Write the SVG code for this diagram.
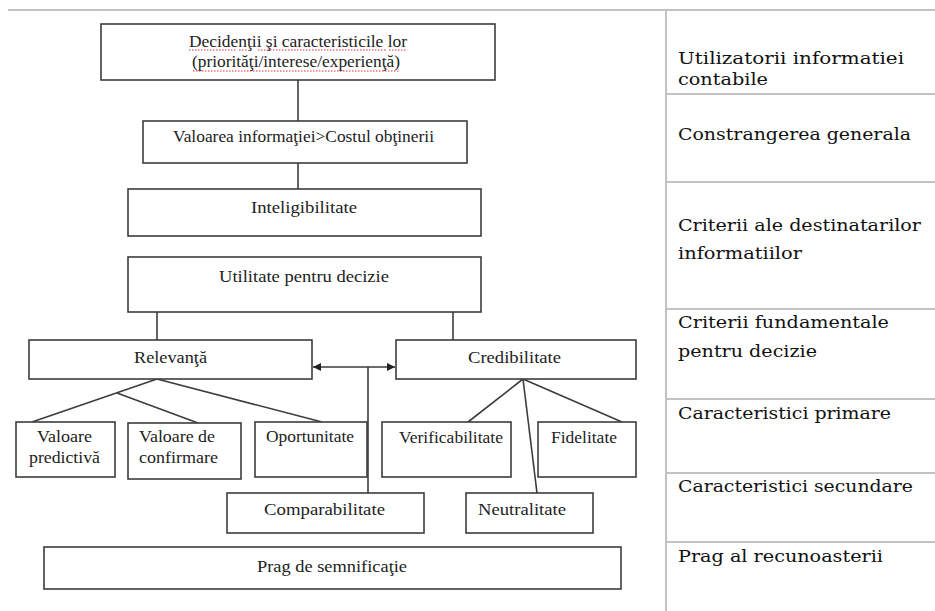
<svg xmlns="http://www.w3.org/2000/svg" width="935" height="611" viewBox="0 0 935 611">
<style>
.box{fill:#ffffff;stroke:#3c3c3c;stroke-width:1.6}
.lbl{font-family:"Liberation Serif","Times New Roman",serif;font-size:17px;fill:#222}
.c{text-anchor:middle}
.side{font-family:"DejaVu Serif","Liberation Serif",serif;font-size:17px;fill:#111}
.grid{stroke:#c2c2c2;stroke-width:2;fill:none}
.con{stroke:#3c3c3c;stroke-width:1.6;fill:none}
.spell{stroke:#e03030;stroke-width:1;stroke-dasharray:1.5 1.5;fill:none}
</style>
<defs>
<marker id="ah" markerUnits="userSpaceOnUse" markerWidth="8" markerHeight="8" refX="8" refY="4" orient="auto-start-reverse">
<path d="M0,0 L8,4 L0,8 z" fill="#222"/>
</marker>
</defs>
<rect width="935" height="611" fill="#ffffff"/>
<g id="table-grid">
<line class="grid" x1="8" y1="10" x2="935" y2="10"/>
<line class="grid" x1="666" y1="10" x2="666" y2="611"/>
<line class="grid" x1="666" y1="94" x2="935" y2="94"/>
<line class="grid" x1="666" y1="182" x2="935" y2="182"/>
<line class="grid" x1="666" y1="309" x2="935" y2="309"/>
<line class="grid" x1="666" y1="399" x2="935" y2="399"/>
<line class="grid" x1="666" y1="473" x2="935" y2="473"/>
<line class="grid" x1="666" y1="542" x2="935" y2="542"/>
</g>
<g id="side-labels">
<text class="side" x="678" y="64" textLength="226" lengthAdjust="spacingAndGlyphs">Utilizatorii informatiei</text>
<text class="side" x="678" y="85" textLength="90" lengthAdjust="spacingAndGlyphs">contabile</text>
<text class="side" x="678" y="140" textLength="233" lengthAdjust="spacingAndGlyphs">Constrangerea generala</text>
<text class="side" x="678" y="231" textLength="243" lengthAdjust="spacingAndGlyphs">Criterii ale destinatarilor</text>
<text class="side" x="678" y="259" textLength="124" lengthAdjust="spacingAndGlyphs">informatiilor</text>
<text class="side" x="678" y="328" textLength="211" lengthAdjust="spacingAndGlyphs">Criterii fundamentale</text>
<text class="side" x="678" y="357" textLength="139" lengthAdjust="spacingAndGlyphs">pentru decizie</text>
<text class="side" x="678" y="419" textLength="213" lengthAdjust="spacingAndGlyphs">Caracteristici primare</text>
<text class="side" x="678" y="492" textLength="235" lengthAdjust="spacingAndGlyphs">Caracteristici secundare</text>
<text class="side" x="678" y="562" textLength="205" lengthAdjust="spacingAndGlyphs">Prag al recunoasterii</text>
</g>
<g id="connectors">
<line class="con" x1="298" y1="80" x2="298" y2="121"/>
<line class="con" x1="298" y1="163" x2="298" y2="189"/>
<line class="con" x1="157" y1="312" x2="157" y2="340"/>
<line class="con" x1="453" y1="312" x2="453" y2="340"/>
<line class="con" x1="157" y1="379" x2="32" y2="422"/>
<line class="con" x1="117" y1="393" x2="198" y2="423"/>
<line class="con" x1="157" y1="379" x2="322" y2="422"/>
<line class="con" x1="523" y1="379" x2="468" y2="422"/>
<line class="con" x1="523" y1="379" x2="622" y2="422"/>
<line class="con" x1="523" y1="379" x2="537" y2="493"/>
<line class="con" x1="313" y1="367" x2="395" y2="367" marker-start="url(#ah)" marker-end="url(#ah)"/>
<line class="con" x1="368" y1="367" x2="368" y2="493"/>
</g>
<g id="n-decidenti">
<rect class="box" x="101" y="24" width="394" height="56"/>
<text class="lbl c" x="298" y="47" textLength="218" lengthAdjust="spacingAndGlyphs">Decidenţii şi caracteristicile lor</text>
<text class="lbl c" x="296" y="67" textLength="208" lengthAdjust="spacingAndGlyphs">(priorităţi/interese/experienţă)</text>
<path class="spell" d="M189,50 H237 M239,50 H248 M258,50 H387 M389,50 H407 M193,71 H400"/>
</g>
<g id="n-valoarea">
<rect class="box" x="143" y="121" width="324" height="42"/>
<text class="lbl c" x="303.5" y="142" textLength="261" lengthAdjust="spacingAndGlyphs">Valoarea informaţiei&gt;Costul obţinerii</text>
</g>
<g id="n-inteligibilitate">
<rect class="box" x="128" y="189" width="353" height="47"/>
<text class="lbl c" x="304" y="213" textLength="106" lengthAdjust="spacingAndGlyphs">Inteligibilitate</text>
</g>
<g id="n-utilitate">
<rect class="box" x="128" y="257" width="353" height="55"/>
<text class="lbl c" x="304" y="282" textLength="170" lengthAdjust="spacingAndGlyphs">Utilitate pentru decizie</text>
</g>
<g id="n-relevanta">
<rect class="box" x="29" y="340" width="283" height="39"/>
<text class="lbl c" x="170.5" y="363" textLength="73" lengthAdjust="spacingAndGlyphs">Relevanţă</text>
</g>
<g id="n-credibilitate">
<rect class="box" x="396" y="340" width="240" height="39"/>
<text class="lbl c" x="514.5" y="363" textLength="93" lengthAdjust="spacingAndGlyphs">Credibilitate</text>
</g>
<g id="n-valoare-predictiva">
<rect class="box" x="16" y="422" width="99" height="55"/>
<text class="lbl c" x="64.5" y="442" textLength="55" lengthAdjust="spacingAndGlyphs">Valoare</text>
<text class="lbl c" x="64.5" y="463" textLength="71" lengthAdjust="spacingAndGlyphs">predictivă</text>
</g>
<g id="n-valoare-confirmare">
<rect class="box" x="128" y="423" width="113" height="56"/>
<text class="lbl" x="139" y="442" textLength="76" lengthAdjust="spacingAndGlyphs">Valoare de</text>
<text class="lbl" x="139" y="463" textLength="79" lengthAdjust="spacingAndGlyphs">confirmare</text>
</g>
<g id="n-oportunitate">
<rect class="box" x="255" y="422" width="112" height="55"/>
<text class="lbl" x="266" y="442" textLength="88" lengthAdjust="spacingAndGlyphs">Oportunitate</text>
</g>
<g id="n-verificabilitate">
<rect class="box" x="382" y="422" width="129" height="55"/>
<text class="lbl c" x="451" y="443" textLength="104" lengthAdjust="spacingAndGlyphs">Verificabilitate</text>
</g>
<g id="n-fidelitate">
<rect class="box" x="538" y="422" width="98" height="55"/>
<text class="lbl c" x="584" y="443" textLength="66" lengthAdjust="spacingAndGlyphs">Fidelitate</text>
</g>
<g id="n-comparabilitate">
<rect class="box" x="227" y="493" width="197" height="40"/>
<text class="lbl c" x="324.5" y="515" textLength="121" lengthAdjust="spacingAndGlyphs">Comparabilitate</text>
</g>
<g id="n-neutralitate">
<rect class="box" x="466" y="493" width="127" height="40"/>
<text class="lbl c" x="522" y="515" textLength="88" lengthAdjust="spacingAndGlyphs">Neutralitate</text>
</g>
<g id="n-prag">
<rect class="box" x="44" y="547" width="577" height="42"/>
<text class="lbl c" x="332" y="572" textLength="150" lengthAdjust="spacingAndGlyphs">Prag de semnificaţie</text>
</g>
</svg>
